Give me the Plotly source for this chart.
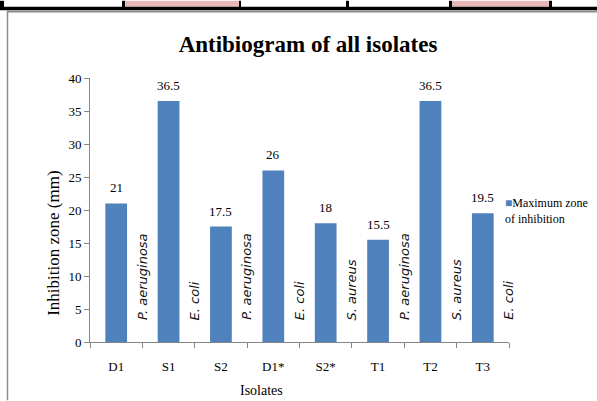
import plotly.graph_objects as go

# ---- data ----
isolates = ["D1", "S1", "S2", "D1*", "S2*", "T1", "T2", "T3"]
max_zone = [21, 36.5, 17.5, 26, 18, 15.5, 36.5, 19.5]
organisms = ["P. aeruginosa", "E. coli", "P. aeruginosa", "E. coli",
             "S. aureus", "P. aeruginosa", "S. aureus", "E. coli"]
y_ticks = [0, 5, 10, 15, 20, 25, 30, 35, 40]
series_name = "Maximum zone"
series_name2 = "of inhibition"
title_text = "Antibiogram of all isolates"
x_title = "Isolates"
y_title = "Inhibition zone (mm)"

# ---- geometry helpers (pixels -> paper) ----
W, H = 597, 401
L, R, T, B = 90, 88, 77.5, 58.5
pw, ph = W - L - R, H - T - B


def px(x):
    return (x - L) / pw


def py(y):
    return (H - B - y) / ph


SERIF = "Liberation Serif, Times New Roman, serif"
BAR = "#4F81BD"
AX = "#868686"

fig = go.Figure()
fig.add_trace(go.Bar(
    x=isolates, y=max_zone, width=0.415,
    marker=dict(color=BAR, line=dict(width=0)),
    name=series_name, showlegend=False,
))

annotations = []
# data labels
for i, v in enumerate(max_zone):
    annotations.append(dict(
        x=i, y=v, xref="x", yref="y", text=str(v), showarrow=False,
        xanchor="center", yanchor="bottom", yshift=6,
        font=dict(family=SERIF, size=13, color="black")))
# organism labels between bars
for i, org in enumerate(organisms):
    annotations.append(dict(
        x=i + 0.5, y=3, xref="x", yref="y", text=f"<i>{org}</i>", showarrow=False,
        textangle=-90, yanchor="bottom", xanchor="center",
        font=dict(family="DejaVu Sans", size=13, color="#111111")))
# axis titles
annotations.append(dict(
    x=px(54), y=py(244), xref="paper", yref="paper", text=y_title, showarrow=False,
    textangle=-90, xanchor="center", yanchor="middle",
    font=dict(family=SERIF, size=17, color="black")))
annotations.append(dict(
    x=px(261), y=py(391), xref="paper", yref="paper", text=x_title, showarrow=False,
    xanchor="center", yanchor="middle",
    font=dict(family=SERIF, size=14, color="black")))
# legend
annotations.append(dict(
    x=px(503), y=py(211), xref="paper", yref="paper", xanchor="left", yanchor="middle",
    align="left", showarrow=False,
    text=f'<span style="color:{BAR}">■</span>{series_name}<br>{series_name2}',
    font=dict(family=SERIF, size=12, color="black")))

# decorative frame / table strip
shapes = []
shapes.append(dict(type="rect", xref="paper", yref="paper", x0=px(125), x1=px(239),
                   y0=py(0), y1=py(6), fillcolor="#E6B8B7", line=dict(width=0), layer="above"))
shapes.append(dict(type="rect", xref="paper", yref="paper", x0=px(452), x1=px(549),
                   y0=py(0), y1=py(6), fillcolor="#E6B8B7", line=dict(width=0), layer="above"))
for a, b in [(0, 4), (122, 125), (239, 241), (346, 349), (449, 452), (549, 552)]:
    shapes.append(dict(type="rect", xref="paper", yref="paper", x0=px(a), x1=px(b),
                       y0=py(0), y1=py(7), fillcolor="black", line=dict(width=0), layer="above"))
shapes.append(dict(type="rect", xref="paper", yref="paper", x0=px(0), x1=px(597),
                   y0=py(6), y1=py(9.6), fillcolor="black", line=dict(width=0), layer="above"))
shapes.append(dict(type="line", xref="paper", yref="paper", x0=px(7), x1=px(597),
                   y0=py(10.8), y1=py(10.8), line=dict(color="#8C8C8C", width=2), layer="above"))
shapes.append(dict(type="line", xref="paper", yref="paper", x0=px(7.5), x1=px(7.5),
                   y0=py(10), y1=py(401), line=dict(color="#8C8C8C", width=1.5), layer="above"))

fig.update_layout(
    width=W, height=H,
    margin=dict(l=L, r=R, t=T, b=B, autoexpand=False),
    paper_bgcolor="white", plot_bgcolor="white",
    title=dict(text=f"<b>{title_text}</b>", x=308 / W, xanchor="center",
               y=1 - 44 / H, yanchor="middle",
               font=dict(family=SERIF, size=23, color="black")),
    xaxis=dict(type="category", range=[-0.5, 7.5], showline=True, linecolor=AX, linewidth=1,
               ticks="outside", tickson="boundaries", ticklen=5, tickcolor=AX,
               showgrid=False, tickfont=dict(family=SERIF, size=13, color="black"),
               ticklabelstandoff=12),
    yaxis=dict(range=[0, 40], tickvals=y_ticks, showline=True, linecolor=AX, linewidth=1,
               ticks="outside", ticklen=5, tickcolor=AX, showgrid=False, zeroline=False,
               tickfont=dict(family=SERIF, size=13, color="black")),
    annotations=annotations, shapes=shapes, showlegend=False,
)

fig.write_html("out.html", config={"displayModeBar": False},
               post_script="document.body.style.margin='0px';document.body.style.overflow='hidden';")
